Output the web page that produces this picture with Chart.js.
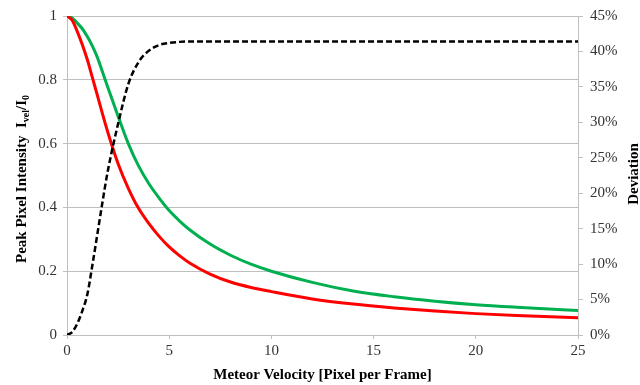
<!DOCTYPE html>
<html>
<head>
<meta charset="utf-8">
<script src="https://cdn.jsdelivr.net/npm/chart.js@4.4.1/dist/chart.umd.min.js"></script>
<style>
  html, body { margin: 0; padding: 0; background: #fff; }
  #wrap { width: 640px; height: 385px; }
</style>
</head>
<body>
<div id="wrap"><canvas id="chart" width="640" height="385"></canvas></div>
<script>
// velocity samples (pixel per frame)
const velocity = [0, 0.25, 0.5, 0.75, 1, 1.25, 1.5, 1.75, 2, 2.5, 3, 3.5, 4, 4.5, 5, 5.5, 6, 7, 8, 9, 10, 12, 14, 16, 18, 20, 22, 25];
// peak pixel intensity, red model
const intensityRed = [1, 0.987, 0.952, 0.91, 0.862, 0.805, 0.748, 0.69, 0.635, 0.537, 0.46, 0.397, 0.35, 0.31, 0.276, 0.249, 0.226, 0.191, 0.166, 0.149, 0.136, 0.113, 0.097, 0.085, 0.075, 0.067, 0.061, 0.054];
// peak pixel intensity, green model
const intensityGreen = [1, 0.994, 0.978, 0.96, 0.935, 0.905, 0.868, 0.822, 0.776, 0.686, 0.6, 0.53, 0.475, 0.43, 0.39, 0.358, 0.33, 0.285, 0.25, 0.222, 0.2, 0.165, 0.138, 0.12, 0.106, 0.095, 0.087, 0.077];
// deviation in percent
const deviation = [0, 0.4, 1.6, 3.4, 5.8, 10.0, 14.5, 19.0, 23.2, 29.8, 35.4, 38.5, 40.1, 40.9, 41.2, 41.35, 41.4, 41.4, 41.4, 41.4, 41.4, 41.4, 41.4, 41.4, 41.4, 41.4, 41.4, 41.4];

const xTicks = [0, 5, 10, 15, 20, 25];
const serif = '"Liberation Serif", "Times New Roman", serif';

function pts(ys) {
  return velocity.map((v, i) => ({ x: v, y: ys[i] }));
}

// draws the two vertical axis titles (left one has subscripts)
const axisTitles = {
  id: 'axisTitles',
  afterDraw(chart) {
    const ctx = chart.ctx;
    const big = 'bold 15px ' + serif;
    const small = 'bold 10px ' + serif;
    const parts = [
      ['Peak Pixel Intensity  I', big, 0],
      ['vel', small, 4],
      ['/I', big, 0],
      ['0', small, 4]
    ];
    ctx.save();
    let total = 0;
    parts.forEach(p => { ctx.font = p[1]; total += ctx.measureText(p[0]).width; });
    ctx.translate(22, 179);
    ctx.rotate(-Math.PI / 2);
    ctx.fillStyle = '#000';
    ctx.textBaseline = 'middle';
    ctx.textAlign = 'left';
    let x = -total / 2;
    parts.forEach(p => {
      ctx.font = p[1];
      ctx.fillText(p[0], x, p[2]);
      x += ctx.measureText(p[0]).width;
    });
    ctx.restore();

    ctx.save();
    ctx.translate(634, 174);
    ctx.rotate(-Math.PI / 2);
    ctx.font = big;
    ctx.fillStyle = '#000';
    ctx.textAlign = 'center';
    ctx.textBaseline = 'middle';
    ctx.fillText('Deviation', 0, 0);
    ctx.restore();
  }
};

new Chart(document.getElementById('chart'), {
  type: 'line',
  data: {
    datasets: [
      {
        label: 'Deviation',
        data: pts(deviation),
        yAxisID: 'y2',
        borderColor: '#000',
        borderWidth: 2.5,
        borderDash: [6, 3],
        pointRadius: 0,
        cubicInterpolationMode: 'monotone',
        order: 0
      },
      {
        label: 'Red',
        data: pts(intensityRed),
        yAxisID: 'y',
        borderColor: '#ff0000',
        borderWidth: 3,
        pointRadius: 0,
        cubicInterpolationMode: 'monotone',
        order: 1
      },
      {
        label: 'Green',
        data: pts(intensityGreen),
        yAxisID: 'y',
        borderColor: '#00b050',
        borderWidth: 3,
        pointRadius: 0,
        cubicInterpolationMode: 'monotone',
        order: 2
      }
    ]
  },
  options: {
    responsive: false,
    animation: false,
    layout: { padding: { top: 16, left: 0, right: 0, bottom: 0 } },
    plugins: {
      legend: { display: false },
      tooltip: { enabled: false }
    },
    scales: {
      x: {
        type: 'linear',
        min: 0,
        max: 25,
        afterBuildTicks: s => { s.ticks = xTicks.map(v => ({ value: v })); },
        afterFit: s => { s.height = 50; },
        grid: { drawOnChartArea: false, color: '#bfbfbf', tickLength: 4 },
        border: { color: '#bfbfbf', width: 1 },
        ticks: { color: '#333', font: { family: serif, size: 15 }, padding: 3, maxRotation: 0 },
        title: {
          display: true,
          text: 'Meteor Velocity [Pixel per Frame]',
          color: '#000',
          font: { family: serif, size: 15, weight: 'bold' },
          padding: { top: 0, bottom: 1 }
        }
      },
      y: {
        position: 'left',
        min: 0,
        max: 1,
        ticks: {
          stepSize: 0.2,
          color: '#333',
          font: { family: serif, size: 15 },
          padding: 6,
          callback: v => String(Math.round(v * 10) / 10)
        },
        afterFit: s => { s.width = 67; },
        grid: { color: '#bfbfbf', tickLength: 4 },
        border: { color: '#bfbfbf' }
      },
      y2: {
        position: 'right',
        min: 0,
        max: 45,
        ticks: {
          stepSize: 5,
          color: '#333',
          font: { family: serif, size: 15 },
          padding: 7,
          callback: v => v + '%'
        },
        afterFit: s => { s.width = 62; },
        grid: { drawOnChartArea: false, color: '#bfbfbf', tickLength: 5 },
        border: { color: '#bfbfbf' }
      }
    }
  },
  plugins: [axisTitles]
});
</script>
</body>
</html>
